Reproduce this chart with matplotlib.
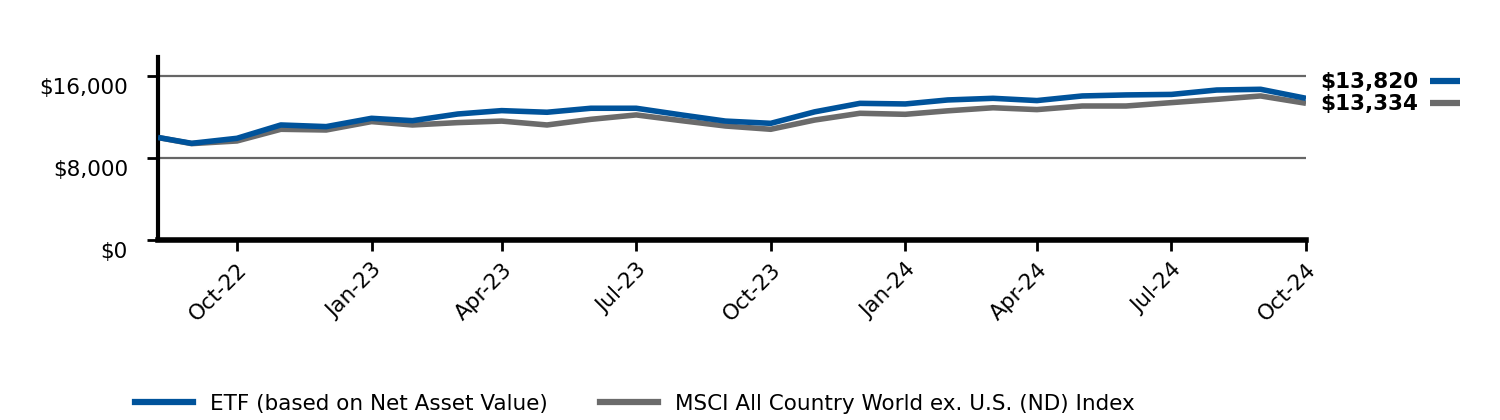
import matplotlib
matplotlib.use("Agg")
import matplotlib.pyplot as plt
import matplotlib.dates as mdates
import pandas as pd
from matplotlib.lines import Line2D
from matplotlib.transforms import ScaledTranslation

dates = pd.to_datetime(["2022-09-07"] + [str(d.date()) for d in pd.date_range("2022-09-30", "2024-10-31", freq="ME")])

etf = [10000, 9430, 9920, 11220, 11060, 11870, 11640, 12290, 12620, 12460, 12850, 12850,
       12200, 11600, 11380, 12500, 13330, 13270, 13660, 13820, 13600, 14050, 14150, 14200,
       14630, 14700, 13820]
index = [10000, 9400, 9660, 10800, 10730, 11550, 11220, 11450, 11600, 11220, 11770, 12200,
         11640, 11120, 10800, 11700, 12360, 12260, 12600, 12900, 12720, 13070, 13070, 13400,
         13720, 14050, 13334]

labels = ["ETF (based on Net Asset Value)", "MSCI All Country World ex. U.S. (ND) Index"]
end_labels = ["$13,820", "$13,334"]
y_ticks = [0, 8000, 16000]
y_tick_labels = ["$0", "$8,000", "$16,000"]
x_ticks = pd.date_range("2022-10-31", "2024-10-31", freq="3ME")

BLUE = "#00539b"
GRAY = "#6b6b6b"

plt.rcParams["font.family"] = "DejaVu Sans"

fig = plt.figure(figsize=(15, 4.2), dpi=100)
ax = fig.add_axes([158 / 1500, 1 - 240 / 420, (1306 - 158) / 1500, (240 - 57) / 420])

for y in y_ticks[1:]:
    ax.axhline(y, color="#666666", linewidth=1.6, zorder=1)

ax.plot(dates, index, color=GRAY, linewidth=4, zorder=2, solid_capstyle="butt")
ax.plot(dates, etf, color=BLUE, linewidth=4, zorder=3, solid_capstyle="butt")

ax.set_xlim(dates[0], dates[-1])
ax.set_ylim(0, 17850)

# y labels sit a little below their tick marks
ax.set_yticks(y_ticks)
ax.set_yticklabels([])
shift = ax.get_yaxis_transform() + ScaledTranslation(-30 / 100, -12 / 100, fig.dpi_scale_trans)
for y, txt in zip(y_ticks, y_tick_labels):
    ax.text(0, y, txt, transform=shift, ha="right", va="center", fontsize=15.5)

ax.set_xticks(x_ticks)
ax.xaxis.set_major_formatter(mdates.DateFormatter("%b-%y"))
plt.setp(ax.get_xticklabels(), rotation=45, ha="right", rotation_mode="anchor", fontsize=15.5)

ax.tick_params(axis="y", length=8, width=2, color="black")
ax.tick_params(axis="x", length=8, width=2, pad=6, color="black")

for side in ("top", "right"):
    ax.spines[side].set_visible(False)
ax.spines["left"].set_linewidth(3)
ax.spines["bottom"].set_linewidth(4)

# end-value labels to the right of the plot
for i, (txt, col) in enumerate(zip(end_labels, [BLUE, GRAY])):
    ypix = 82 + 22 * i
    fig.text(1320 / 1500, 1 - ypix / 420, txt, fontsize=15.5, fontweight="bold", va="center", ha="left")
    fig.add_artist(Line2D([1430 / 1500, 1460 / 1500], [1 - (ypix - 1) / 420] * 2,
                          color=col, linewidth=4.5, solid_capstyle="butt"))

handles = [Line2D([], [], color=BLUE, linewidth=4.5), Line2D([], [], color=GRAY, linewidth=4.5)]
fig.legend(handles, labels, loc="center", bbox_to_anchor=(635 / 1500, 1 - 404 / 420), ncol=2,
           frameon=False, fontsize=15.5, handlelength=2.7, handletextpad=0.8, columnspacing=2.4)

fig.savefig("out.png", dpi=100, facecolor="white")
